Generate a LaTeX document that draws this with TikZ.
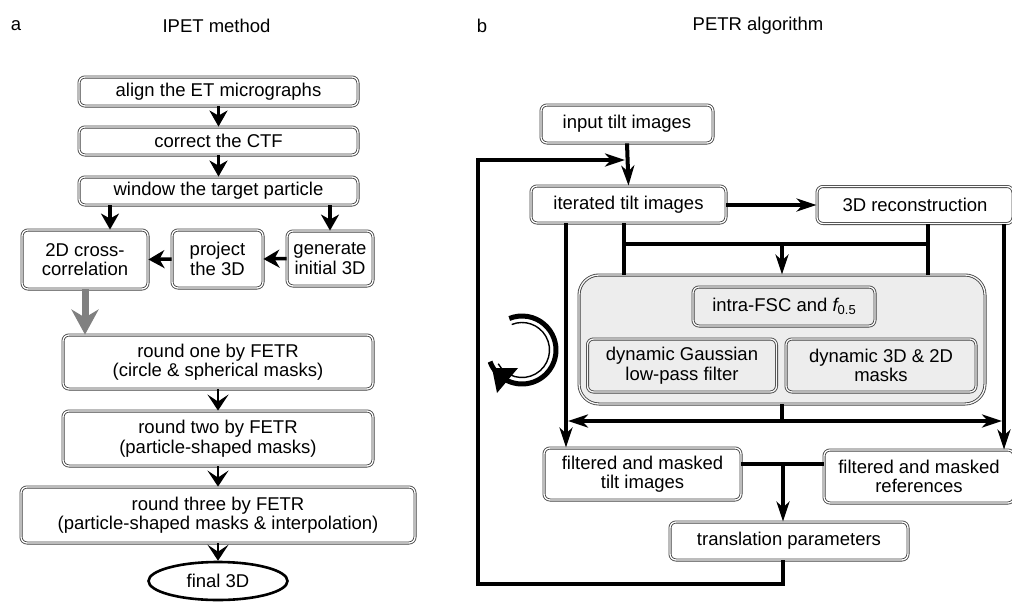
\documentclass[tikz,border=0pt]{standalone}
\usepackage{fontspec}
\setmainfont{Liberation Sans}
\usetikzlibrary{arrows.meta,shapes.geometric,calc}
\newcommand{\myfs}{\fontsize{18.5}{19.5}\selectfont}
\begin{document}
\begin{tikzpicture}[x=1pt,y=-1pt,
  box/.style={draw=black!75, double=white, double distance=1.3pt, line width=0.85pt,
    rounded corners=6pt, inner sep=0pt, align=center, font=\myfs},
  gbox/.style={box, fill=black!7, double=black!3},
  lbl/.style={inner sep=0pt, font=\myfs},
  larrow/.style={line width=3.5pt, -{Stealth[length=16pt,width=18pt,inset=5pt]}},
  varrow/.style={line width=2pt, -{Stealth[length=16pt,width=21pt,inset=7pt]}},
  garrow/.style={line width=7pt, draw=black!50, -{Stealth[length=25pt,width=27pt,inset=8pt]}},
  rline/.style={line width=4pt},
  rarrow/.style={line width=4pt, -{Stealth[length=20pt,width=13pt,inset=6pt]}}]
\useasboundingbox (0,0) rectangle (1012,608);

% titles
\node[lbl] (ta) at (16,26) {a};
\node[lbl] (tipet) at (216.5,26) {IPET method};
\node[lbl] (tb) at (482,26) {b};
\node[lbl] (tpetr) at (758,26) {PETR algorithm};

% ---------- panel a ----------
\node[box, minimum width=279, minimum height=29] (n1) at (218.5,91.5) {align the ET micrographs};
\node[box, minimum width=279, minimum height=28] (n2) at (218.5,141) {correct the CTF};
\node[box, minimum width=279, minimum height=28] (n3) at (218.5,191) {window the target particle};
\node[box, minimum width=126, minimum height=59] (n4) at (85,259.5) {2D cross-\\correlation};
\node[box, minimum width=91, minimum height=58] (n5) at (217.5,259) {project\\the 3D};
\node[box, minimum width=86, minimum height=55] (n6) at (330,258.5) {generate\\initial 3D};
\node[box, minimum width=310, minimum height=54] (n7) at (218,362) {round one by FETR\\(circle \& spherical masks)};
\node[box, minimum width=310, minimum height=55] (n8) at (218,438.5) {round two by FETR\\(particle-shaped masks)};
\node[box, minimum width=394, minimum height=56] (n9) at (218,515) {round three by FETR\\(particle-shaped masks \& interpolation)};
\node[ellipse, draw, line width=2.6pt, minimum width=139, minimum height=38, inner sep=0pt, font=\myfs] (n10) at (218,581) {final 3D};

\coordinate (xa) at (110,0);
\draw[larrow] (n1.south) -- (n2.north);
\draw[larrow] (n2.south) -- (n3.north);
\draw[larrow] (n3.south -| xa) -- (n4.north -| xa);
\draw[larrow] (n6.north |- n3.south) -- (n6.north);
\draw[larrow] (n6.west) -- (n5.east);
\draw[larrow] (n5.west) -- (n4.east);
\draw[garrow] (n4.south) -- (n4.south |- n7.north);
\draw[varrow] (n7.south) -- (n8.north);
\draw[varrow] (n8.south) -- (n9.north);
\draw[varrow] (n9.south) -- (n10.north);

% ---------- panel b ----------
\node[box, minimum width=172, minimum height=38] (inp) at (627,124) {input tilt images};
\node[box, minimum width=195, minimum height=37] (iter) at (628.5,204.5) {iterated tilt images};
\node[box, minimum width=196, minimum height=37] (recon) at (915,205) {3D reconstruction};
\node[gbox, rounded corners=20pt, minimum width=406, minimum height=129] (gray) at (782,339.5) {};
\node[gbox, minimum width=182, minimum height=39] (fsc) at (784,306.5) {intra-FSC and {\itshape f}\raisebox{-0.35ex}{\fontsize{13}{13}\selectfont 0.5}};
\node[gbox, minimum width=189, minimum height=53] (gauss) at (682,365.5) {dynamic Gaussian\\low-pass filter};
\node[gbox, minimum width=190, minimum height=53] (masks) at (881,365.5) {dynamic 3D \& 2D\\masks};
\node[box, minimum width=197, minimum height=52] (ftilt) at (642.5,474) {filtered and masked\\tilt images};
\node[box, minimum width=190, minimum height=53] (fref) at (919,476.5) {filtered and masked\\references};
\node[box, minimum width=238, minimum height=38] (trans) at (789,541) {translation parameters};

\coordinate (xl) at (566,0);
\coordinate (xm) at (624,0);
\coordinate (xc) at (782,0);
\coordinate (xr) at (928,0);
\coordinate (xe) at (1004,0);
\coordinate (jt) at (782,244);
\coordinate (hb) at (782,421);
\coordinate (jy) at (783,464);
\coordinate (lb) at (478,584);
\coordinate (lt) at (478,160);

\draw[rarrow] (inp.south) -- (iter.north);
\draw[rarrow, shorten >=2pt] (trans.south -| jy) |- (lb) -- (lt) -- (lt -| inp.south);
\draw[rarrow] (iter.east |- recon.west) -- (recon.west);
\draw[rarrow] (iter.south -| xl) -- (ftilt.north -| xl);
\draw[rline] (iter.south -| xm) -- (gray.north -| xm);
\draw[rline] (recon.south -| xr) -- (gray.north -| xr);
\draw[rline] (jt -| xm) -- (jt -| xr);
\draw[rarrow] (jt) -- (gray.north);
\draw[rarrow] (recon.south -| xe) -- (fref.north -| xe);
\draw[rline] (gray.south) -- (hb);
\draw[rarrow, shorten >=2pt] (hb) -- (hb -| xl);
\draw[rarrow, shorten >=2pt] (hb) -- (hb -| xe);
\draw[rline] (jy -| ftilt.east) -- (jy -| fref.west);
\draw[rarrow] (jy) -- (trans.north -| jy);

% circular arrow
\draw[line width=5pt] (522,350) ++(160:34) arc[start angle=160, end angle=-112, radius=34];
\draw[line width=1.4pt] (522,350) ++(150:27.5) arc[start angle=150, end angle=-112, radius=27.5];
\fill (492,368) -- (518,368) -- (497,393) -- cycle;
\end{tikzpicture}
\end{document}
